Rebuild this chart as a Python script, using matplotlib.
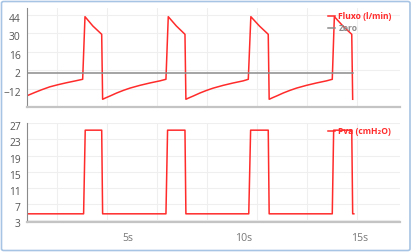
import matplotlib
matplotlib.use('Agg')
import matplotlib.pyplot as plt
import matplotlib.transforms as mtransforms
from matplotlib.patches import FancyBboxPatch

plt.rcParams['font.family'] = ['Open Sans', 'DejaVu Sans']

# Dados
t_fluxo = [0.66, 1.0, 1.3, 1.65, 2.0, 2.37, 2.75, 3.06,
           3.16, 3.5, 3.88, 3.92,
           4.08, 4.24, 4.53, 4.82, 5.10, 5.53, 5.96, 6.39, 6.65,
           6.75, 7.1, 7.47, 7.51,
           7.67, 7.83, 8.12, 8.41, 8.69, 9.12, 9.55, 9.98, 10.20,
           10.31, 10.68, 11.06, 11.10,
           11.26, 11.42, 11.71, 12.0, 12.28, 12.71, 13.14, 13.57, 13.82,
           13.91, 14.28, 14.66, 14.70]
fluxo = [-17.4, -14.9, -12.8, -10.6, -9.0, -7.5, -6.1, -4.9,
         42.7, 35.6, 29.3, -20.1,
         -18.8, -17.6, -15.3, -13.3, -11.6, -9.5, -7.7, -6.1, -4.9,
         42.7, 35.6, 29.3, -20.1,
         -18.8, -17.6, -15.3, -13.3, -11.6, -9.5, -7.7, -6.1, -4.9,
         42.7, 35.6, 29.3, -20.1,
         -18.8, -17.6, -15.3, -13.3, -11.6, -9.5, -7.7, -6.1, -4.9,
         42.7, 35.6, 29.3, -20.1]

t_zero = [0.66, 14.72]
zero = [0, 0]

t_pva = [0.66, 3.10, 3.17, 3.88, 3.92,
         6.65, 6.72, 7.47, 7.51,
         10.22, 10.30, 11.06, 11.10,
         13.82, 13.88, 14.66, 14.70, 14.75]
pva = [4.6, 4.6, 25.3, 25.3, 4.6,
       4.6, 25.3, 25.3, 4.6,
       4.6, 25.3, 25.3, 4.6,
       4.6, 25.3, 25.3, 4.6, 4.6]

ticks_fluxo = [-12, 2, 16, 30, 44]
ticks_pva = [3, 7, 11, 15, 19, 23, 27]
ticks_x = [5, 10, 15]
labels_x = ['5s', '10s', '15s']
grade_x = [1.94, 4.09, 6.25, 8.41, 10.56, 12.72, 14.87]

vermelho = '#ff2b2b'
cinza = '#8c8c8c'

fig = plt.figure(figsize=(4.13, 2.52), dpi=100)
ax1 = fig.add_axes([27 / 413, 1 - 107.3 / 252, 373 / 413, 99.3 / 252])
ax2 = fig.add_axes([27 / 413, 1 - 221.7 / 252, 373 / 413, 98.4 / 252])

ax1.plot(t_fluxo, fluxo, color=vermelho, lw=1.1, label='Fluxo (l/min)')
ax1.plot(t_zero, zero, color=cinza, lw=1.1, label='Zero')
ax2.plot(t_pva, pva, color=vermelho, lw=1.1, label='Pva (cmH₂O)')

ax1.set_ylim(-26.2, 49.3)
ax2.set_ylim(2.65, 26.95)
ax1.set_yticks(ticks_fluxo)
ax2.set_yticks(ticks_pva)

desloca = mtransforms.ScaledTranslation(0, -3 / 100, fig.dpi_scale_trans)
for ax in (ax1, ax2):
    ax.set_xlim(0.66, 16.74)
    ax.set_xticks(ticks_x)
    ax.set_xticks(grade_x, minor=True)
    ax.grid(True, which='minor', axis='x', color='#efefef', lw=0.8)
    ax.grid(True, which='major', axis='y', color='#efefef', lw=0.8)
    ax.set_axisbelow(True)
    for s in ('top', 'right'):
        ax.spines[s].set_visible(False)
    ax.spines['left'].set_color('#8a8a8a')
    ax.spines['left'].set_linewidth(0.8)
    ax.spines['bottom'].set_color('#c4c4c4')
    ax.spines['bottom'].set_linewidth(1.6)
    ax.tick_params(axis='y', length=0, pad=4.5, labelsize=7.4, labelcolor='#555555')
    ax.tick_params(axis='x', which='both', length=0, pad=8, labelsize=7.6, labelcolor='#777777')
    for lbl in ax.get_yticklabels():
        lbl.set_transform(lbl.get_transform() + desloca)

ax1.set_xticklabels([])
ax2.set_xticklabels(labels_x)

leg_opts = dict(loc='upper left', frameon=False, borderpad=0, handlelength=0.85,
                handletextpad=0.35, labelspacing=0.3, labelcolor='linecolor',
                prop={'weight': 'bold', 'size': 6.1}, bbox_transform=fig.transFigure)
ax1.legend(bbox_to_anchor=(324 / 413, 1 - 8 / 252), **leg_opts)
ax2.legend(bbox_to_anchor=(324 / 413, 1 - 123 / 252), **leg_opts)

borda = FancyBboxPatch((1.5 / 413, 1.5 / 252), 408.5 / 413, 249 / 252,
                       boxstyle='round,pad=0,rounding_size=0.006',
                       transform=fig.transFigure, fill=False,
                       edgecolor='#a8c4e4', lw=1.2)
fig.patches.append(borda)

fig.savefig('out.png', dpi=100)
